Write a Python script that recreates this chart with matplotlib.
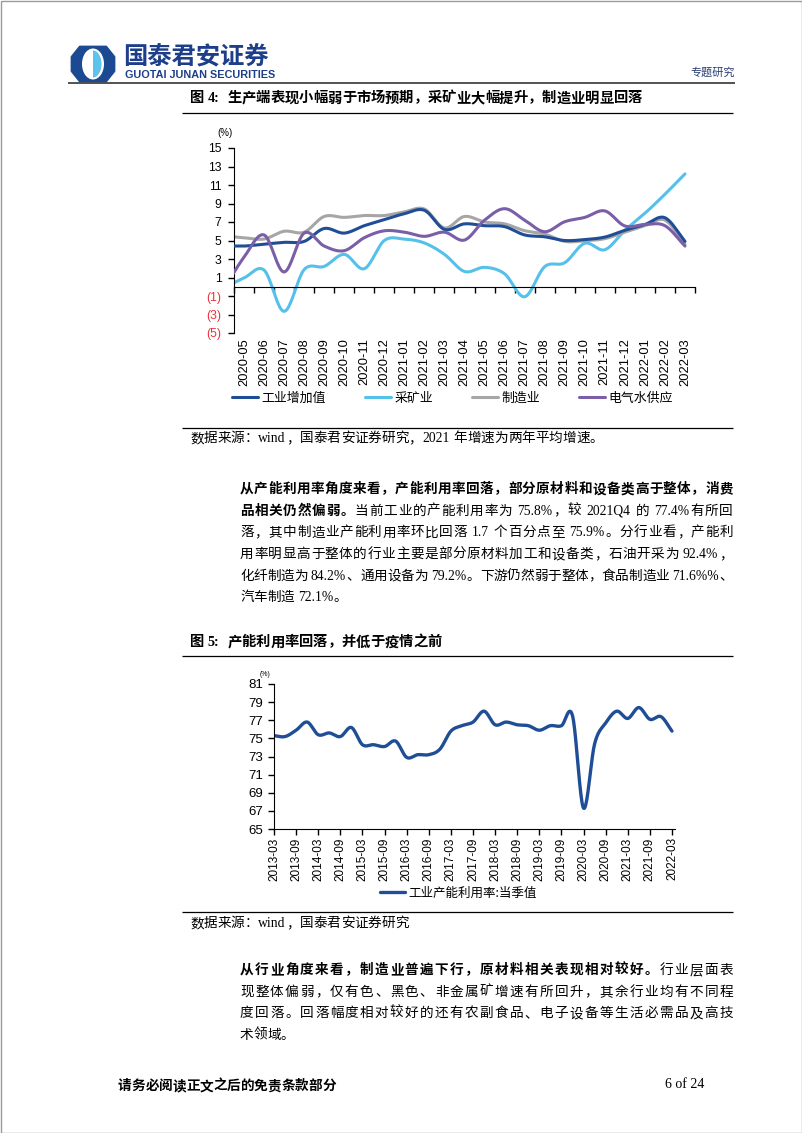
import numpy as np
import matplotlib
matplotlib.use('Agg')
import matplotlib.pyplot as plt
from matplotlib.patches import Polygon, Ellipse, Rectangle
from matplotlib.font_manager import FontProperties

# ---------------- data ----------------
# chart 1 (first entry 2020-04 lies just left of the visible axis)
months1 = ['2020-04', '2020-05', '2020-06', '2020-07', '2020-08', '2020-09', '2020-10',
           '2020-11', '2020-12', '2021-01', '2021-02', '2021-03', '2021-04', '2021-05',
           '2021-06', '2021-07', '2021-08', '2021-09', '2021-10', '2021-11', '2021-12',
           '2022-01', '2022-02', '2022-03']
industry = [4.4, 4.4, 4.6, 4.8, 4.9, 6.3, 5.8, 6.6, 7.25, 7.9, 8.26, 6.2, 6.8, 6.6,
            6.5, 5.6, 5.4, 5.0, 5.1, 5.37, 6.1, 6.73, 7.46, 4.9]
mining = [-0.1, 0.95, 1.8, -2.66, 1.85, 2.2, 3.5, 1.95, 5.0, 5.15, 4.73, 3.5, 1.65, 2.1,
          1.4, -1.08, 2.17, 2.6, 4.7, 4.0, 6.1, 7.94, 10.0, 12.2]
manufacturing = [5.5, 5.3, 5.16, 6.0, 5.9, 7.6, 7.5, 7.7, 7.7, 8.1, 8.4, 6.35, 7.6, 7.0,
                 6.8, 6.06, 5.7, 4.9, 4.98, 5.2, 5.9, 6.6, 7.2, 4.6]
utilities = [-0.2, 3.2, 5.6, 1.6, 5.8, 4.4, 3.9, 5.3, 6.05, 5.9, 5.45, 5.9, 5.05, 7.2,
             8.44, 7.2, 5.95, 7.03, 7.5, 8.2, 6.57, 6.73, 6.6, 4.4]
series1_names = ['工业增加值', '采矿业', '制造业', '电气水供应']

# chart 2
quarters = ['%d-%02d' % (y, m) for y in range(2013, 2023) for m in (3, 6, 9, 12)][:37]
capacity = [75.3, 75.2, 75.9, 76.8, 75.4, 75.6, 75.2, 76.2, 74.3, 74.3, 74.1, 74.7,
            72.9, 73.2, 73.2, 73.8, 75.8, 76.4, 76.8, 78.0, 76.5, 76.8, 76.5, 76.4,
            75.9, 76.4, 76.4, 77.5, 67.3, 74.4, 76.7, 78.0, 77.2, 78.4, 77.1, 77.4, 75.8]
series2_name = '工业产能利用率:当季值'

# ---------------- helpers ----------------
W, H = 802, 1133
fig = plt.figure(figsize=(W / 100, H / 100), dpi=100)
ov = fig.add_axes([0, 0, 1, 1])
ov.set_xlim(0, W)
ov.set_ylim(H, 0)
ov.axis('off')

CJK = 'Noto Sans CJK SC'
SERIF = ['Liberation Serif', CJK]
SANS = ['Liberation Sans', CJK]
renderer = fig.canvas.get_renderer()


def smooth(x, y, n=20):
    x = np.asarray(x, float)
    y = np.asarray(y, float)
    px = np.concatenate([[2 * x[0] - x[1]], x, [2 * x[-1] - x[-2]]])
    py = np.concatenate([[2 * y[0] - y[1]], y, [2 * y[-1] - y[-2]]])
    t = np.linspace(0, 1, n, endpoint=False)
    ox, oy = [], []
    for i in range(1, len(px) - 2):
        for p, out in ((px, ox), (py, oy)):
            p0, p1, p2, p3 = p[i - 1], p[i], p[i + 1], p[i + 2]
            out.extend(0.5 * (2 * p1 + (-p0 + p2) * t + (2 * p0 - 5 * p1 + 4 * p2 - p3) * t ** 2
                              + (-p0 + 3 * p1 - 3 * p2 + p3) * t ** 3))
    ox.append(x[-1])
    oy.append(y[-1])
    return np.array(ox), np.array(oy)


def tokens_of(runs):
    toks = []
    for text, bold in runs:
        buf = ''
        for ch in text:
            if ch == ' ':
                if buf:
                    toks.append((buf, bold))
                    buf = ''
                toks.append((' ', bold))
            elif ord(ch) < 128:
                buf += ch
            else:
                if buf:
                    toks.append((buf, bold))
                    buf = ''
                toks.append((ch, bold))
        if buf:
            toks.append((buf, bold))
    return toks


def draw_runs(x0, yc, runs, size, x1=None, color='black', family=SERIF):
    em = size * 100 / 72
    base = yc + 0.38 * em
    items = []
    for tok, b in tokens_of(runs):
        if tok == ' ':
            items.append((None, em * 0.25))
            continue
        if ord(tok[0]) >= 128:
            w = em
        else:
            prop = FontProperties(family=family, size=size, weight='bold' if b else 'normal')
            w, _, _ = renderer.get_text_width_height_descent(tok, prop, ismath=False)
            w += em * 0.04
        o = ov.text(0, base, tok, fontsize=size, fontweight='bold' if b else 'normal',
                    family=family, color=color, va='baseline', ha='left')
        items.append((o, w))
    total = sum(w for _, w in items)
    gaps = len(items) - 1
    extra = (x1 - x0 - total) / gaps if (x1 is not None and gaps > 0) else 0
    x = x0
    for o, w in items:
        if o is not None:
            o.set_x(x)
        x += w + extra


def hline(x0, x1, y, lw=0.9, color='black'):
    ov.plot([x0, x1], [y, y], color=color, lw=lw, solid_capstyle='butt')


# ---------------- page frame / header ----------------
ov.add_patch(Rectangle((0.5, 0.5), W - 1, H - 1, fill=False, ec='#9a9a9a', lw=1))
NAVY = '#1d3f8a'
ov.add_patch(Polygon([(72, 57), (80, 47), (106, 47), (114, 57), (114, 71), (106, 81),
                      (80, 81), (72, 71)], closed=True, fc='#1c4a92', ec='#1c4a92',
                     lw=2, joinstyle='round'))
ov.add_patch(Ellipse((93, 64), 22, 31, fc='white', ec='none'))
th = np.linspace(-np.pi / 2, np.pi / 2, 40)
ov.add_patch(Polygon(np.column_stack([93 + 8.5 * np.cos(th), 64 + 13.5 * np.sin(th)]),
                     closed=True, fc='#5cc3ea', ec='none'))
ov.text(123, 56, '国泰君安证券', fontsize=17.5, fontweight='bold', family=CJK,
        color=NAVY, va='center', ha='left')
ov.text(125, 75.5, 'GUOTAI JUNAN SECURITIES', fontsize=7.8, fontweight='bold',
        family='Liberation Sans', color=NAVY, va='center', ha='left')
ov.text(735, 73, '专题研究', fontsize=8, family=CJK, color='#2b3f73', va='center', ha='right')
hline(68, 735, 83, lw=1.3, color='#444444')

# ---------------- figure 4 ----------------
draw_runs(190, 97, [('图 4:  生产端表现小幅弱于市场预期，采矿业大幅提升，制造业明显回落', True)], 10.3)
hline(182, 733, 113)
ov.text(225, 133, '(%)', fontsize=7, family=SANS, va='center', ha='center')

ax1 = fig.add_axes([234 / W, 1 - 333 / H, (695 - 234) / W, (333 - 148) / H])
x1 = np.arange(len(months1)) - 1
colors1 = ['#1f4e96', '#55c1ea', '#a6a6a6', '#7a5ea8']
zorders = [3, 2, 2.5, 4]
handles = []
for vals, c, z, name in zip([industry, mining, manufacturing, utilities], colors1, zorders,
                            series1_names):
    sx, sy = smooth(x1, vals)
    ln, = ax1.plot(sx, sy, color=c, lw=2.2, zorder=z, label=name, solid_capstyle='round')
    handles.append(ln)
ax1.set_xlim(-0.5, 22.5)
ax1.set_ylim(-5, 15)
for s in ('top', 'right'):
    ax1.spines[s].set_visible(False)
ax1.spines['bottom'].set_position(('data', 0))
yt = list(range(-5, 16, 2))
ax1.set_yticks(yt, labels=['(%d)' % abs(v) if v < 0 else str(v) for v in yt])
for v, lbl in zip(yt, ax1.get_yticklabels()):
    if v < 0:
        lbl.set_color('#e8333b')
ax1.tick_params(axis='y', length=4, width=1, pad=5, labelsize=8.7,
                labelfontfamily='Liberation Sans')
ax1.set_xticks(np.arange(-0.5, 23, 1))
ax1.set_xticklabels([])
ax1.tick_params(axis='x', length=4, width=1, direction='out')
sec = ax1.secondary_xaxis(0)
sec.set_xticks(np.arange(23))
sec.set_xticklabels(months1[1:], rotation=90, fontsize=9.3, family='Liberation Sans')
sec.tick_params(length=0, pad=4)
sec.spines['bottom'].set_visible(False)

fig.legend(handles, series1_names, loc='center left', bbox_to_anchor=(232 / W, 1 - 398 / H),
           ncol=4, frameon=False, prop={'family': CJK, 'size': 9.3}, handlelength=2.0,
           handletextpad=0.3, columnspacing=3.0, borderpad=0, borderaxespad=0)

hline(182, 733, 428)
draw_runs(190, 437, [('数据来源：wind，国泰君安证券研究，2021 年增速为两年平均增速。', False)], 9.8)

# ---------------- paragraph 1 ----------------
P1 = [
    ([('从产能利用率角度来看，产能利用率回落，部分原材料和设备类高于整体，消费', True)], True),
    ([('品相关仍然偏弱。', True), ('当前工业的产能利用率为 75.8%，较 2021Q4 的 77.4%有所回', False)], True),
    ([('落，其中制造业产能利用率环比回落 1.7 个百分点至 75.9%。分行业看，产能利', False)], True),
    ([('用率明显高于整体的行业主要是部分原材料加工和设备类，石油开采为 92.4%，', False)], True),
    ([('化纤制造为 84.2%、通用设备为 79.2%。下游仍然弱于整体，食品制造业 71.6%%、', False)], True),
    ([('汽车制造 72.1%。', False)], False),
]
for i, (runs, just) in enumerate(P1):
    draw_runs(240, 488 + i * 21.6, runs, 9.8, x1=733 if just else None)

# ---------------- figure 5 ----------------
draw_runs(190, 641, [('图 5:  产能利用率回落，并低于疫情之前', True)], 10.3)
hline(182, 733, 656)
ov.text(265, 675, '(%)', fontsize=5, family=SANS, va='center', ha='center')

ax2 = fig.add_axes([274 / W, 1 - 829 / H, (675 - 274) / W, (829 - 684) / H])
xq = np.arange(len(quarters))
sx, sy = smooth(xq, capacity)
ln2, = ax2.plot(sx, sy, color='#1f4e96', lw=2.4, solid_capstyle='round')
ax2.set_xlim(0, 36.27)
ax2.set_ylim(65, 81)
for s in ('top', 'right'):
    ax2.spines[s].set_visible(False)
ax2.set_yticks(range(65, 82, 2))
ax2.tick_params(axis='y', length=4, width=1, pad=4, labelsize=9.5,
                labelfontfamily='Liberation Sans')
ax2.set_xticks(xq[::2], labels=quarters[::2], rotation=90)
ax2.tick_params(axis='x', length=4, width=1, pad=2, labelsize=8.5,
                labelfontfamily='Liberation Sans')
fig.legend([ln2], [series2_name], loc='center left', bbox_to_anchor=(380 / W, 1 - 893 / H),
           frameon=False, prop={'family': CJK, 'size': 9.0}, handlelength=2.0,
           handletextpad=0.3, borderpad=0, borderaxespad=0)

hline(182, 733, 912)
draw_runs(190, 922, [('数据来源：wind，国泰君安证券研究', False)], 9.8)

# ---------------- paragraph 2 ----------------
P2 = [
    ([('从行业角度来看，制造业普遍下行，原材料相关表现相对较好。', True), ('行业层面表', False)], True),
    ([('现整体偏弱，仅有色、黑色、非金属矿增速有所回升，其余行业均有不同程', False)], True),
    ([('度回落。回落幅度相对较好的还有农副食品、电子设备等生活必需品及高技', False)], True),
    ([('术领域。', False)], False),
]
for i, (runs, just) in enumerate(P2):
    draw_runs(240, 969 + i * 21.5, runs, 9.8, x1=733 if just else None)

# ---------------- footer ----------------
draw_runs(118, 1085, [('请务必阅读正文之后的免责条款部分', True)], 9.8)
ov.text(665, 1085, '6 of 24', fontsize=10, family='Liberation Serif', va='center', ha='left')

fig.savefig('out.png', dpi=100)
